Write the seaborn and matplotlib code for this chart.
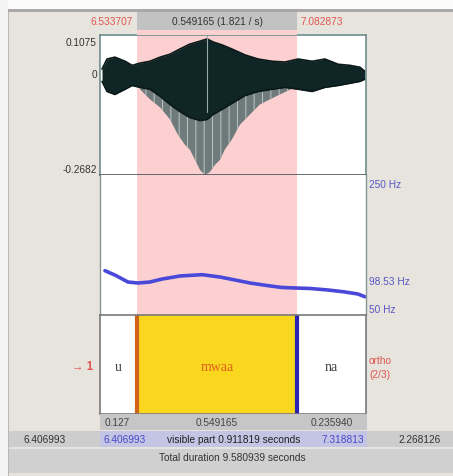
import matplotlib
matplotlib.use("Agg")
import matplotlib.pyplot as plt
import seaborn as sns
import pandas as pd
from matplotlib.patches import Rectangle

# ---------------- data ----------------
view_start, view_end = 6.406993, 7.318813
sel_start, sel_end = 6.533707, 7.082873

wave_t = [6.414, 6.431, 6.458, 6.493, 6.517, 6.544, 6.578, 6.613, 6.647, 6.681, 6.715, 6.750, 6.774,
          6.794, 6.825, 6.859, 6.904, 6.949, 6.997, 7.041, 7.086, 7.134, 7.178, 7.223, 7.264, 7.298, 7.315]
wave_hi = [0.016, 0.043, 0.048, 0.037, 0.026, 0.032, 0.037, 0.048, 0.056, 0.070, 0.083, 0.091, 0.097,
           0.089, 0.081, 0.070, 0.054, 0.043, 0.037, 0.035, 0.043, 0.037, 0.043, 0.029, 0.026, 0.021, 0.010]
wave_lo = [-0.017, -0.044, -0.052, -0.038, -0.028, -0.033, -0.038, -0.057, -0.079, -0.098, -0.114, -0.122, -0.119,
           -0.106, -0.092, -0.076, -0.055, -0.044, -0.038, -0.033, -0.038, -0.044, -0.033, -0.028, -0.022, -0.017, -0.011]

spike_t = [6.544, 6.578, 6.613, 6.647, 6.674, 6.698, 6.715, 6.733, 6.750, 6.767, 6.784, 6.801, 6.818,
           6.835, 6.859, 6.887, 6.921, 6.955, 6.990, 7.024, 7.075]
spike_lo = [-0.038, -0.065, -0.087, -0.119, -0.160, -0.187, -0.200, -0.228, -0.255, -0.268, -0.260, -0.241, -0.228,
            -0.200, -0.173, -0.133, -0.106, -0.079, -0.065, -0.052, -0.033]

pitch_t = [6.424, 6.458, 6.503, 6.537, 6.578, 6.620, 6.681, 6.757, 6.818, 6.870, 6.921, 6.983, 7.031,
           7.075, 7.127, 7.189, 7.247, 7.291, 7.315]
pitch_hz = [113.3, 107.1, 97.1, 95.7, 97.1, 101.4, 105.7, 107.6, 104.3, 100.0, 95.7, 91.9, 89.3,
            88.6, 87.9, 85.7, 82.9, 80.0, 76.1]

tier_labels = ["u", "mwaa", "na"]
tier_bounds = [view_start, sel_start, sel_end, view_end]
tier_durs = ["0.127", "0.549165", "0.235940"]

# ---------------- figure ----------------
sns.set_style("white")
plt.rcParams['font.family'] = ['Liberation Sans', 'DejaVu Sans']
plt.rcParams['hatch.linewidth'] = 0.8

W, H = 453, 477
fig = plt.figure(figsize=(W / 100, H / 100), dpi=100)
fig.patch.set_facecolor("#e6e4dc")


def fx(x):
    return x / W


def fy(y):
    return 1 - y / H


def box(x0, y0, x1, y1, color, **kw):
    fig.patches.append(Rectangle((fx(x0), fy(y1)), (x1 - x0) / W, (y1 - y0) / H,
                                 transform=fig.transFigure, facecolor=color, edgecolor="none", **kw))


def add_ax(x0, y0, x1, y1):
    return fig.add_axes([fx(x0), fy(y1), (x1 - x0) / W, (y1 - y0) / H])


# window frame
box(0, 0, W, 10, "#fbfbfb")
box(0, 0, 8, H, "#f4f4f4")
box(8, 10, W, 13, "#a8a8a8")
box(8, 13, 9, H, "#b8b8b8")

red = "#e2554f"
blue_lbl = "#5a56c8"
fs = 7.3

# top bar
box(137, 13, 297, 31, "#c2c2c2")
fig.text(fx(217), fy(22), "0.549165 (1.821 / s)", ha="center", va="center", fontsize=fs, color="#333333")
fig.text(fx(133), fy(22), "6.533707", ha="right", va="center", fontsize=fs, color=red)
fig.text(fx(301), fy(22), "7.082873", ha="left", va="center", fontsize=fs, color=red)

box(137, 31, 297, 36, "#fcd0d0")

border = "#6e8c8c"

# ---------------- waveform ----------------
axw = add_ax(100, 36, 366, 176)
axw.set_facecolor("white")
axw.axvspan(sel_start, sel_end, color="#fcd0d0", lw=0)
axw.fill_between(spike_t, spike_lo, 0, facecolor="#6f7b7b", hatch="||", edgecolor="#b4bcbc", lw=0)
axw.fill_between(wave_t, wave_lo, wave_hi, facecolor="#102626", lw=0)
axw.plot(wave_t, wave_hi, color="#0a1818", lw=1.2)
axw.plot(wave_t, wave_lo, color="#0a1818", lw=1.2)
axw.plot([6.7725, 6.7725], [-0.10, 0.1075], color="#9aa8a8", lw=0.8)
axw.set_xlim(view_start, view_end)
axw.set_ylim(-0.2682, 0.1075)
axw.set_xticks([])
axw.set_yticks([])
for s in axw.spines.values():
    s.set_color(border)
    s.set_linewidth(1.2)
axw.spines["bottom"].set_color("#4a5656")

fig.text(fx(97), fy(43), "0.1075", ha="right", va="center", fontsize=fs, color="#333333")
fig.text(fx(97), fy(75), "0", ha="right", va="center", fontsize=fs, color="#333333")
fig.text(fx(97), fy(170), "-0.2682", ha="right", va="center", fontsize=fs, color="#333333")

# ---------------- pitch ----------------
axp = add_ax(100, 176, 366, 316)
axp.set_facecolor("white")
axp.axvspan(sel_start, sel_end, color="#fcd0d0", lw=0)
pdf = pd.DataFrame({"t": pitch_t, "hz": pitch_hz})
sns.lineplot(data=pdf, x="t", y="hz", ax=axp, color="#4a48d8", lw=2.6)
axp.set_xlim(view_start, view_end)
axp.set_ylim(50, 250)
axp.set_xticks([])
axp.set_yticks([])
axp.set_xlabel("")
axp.set_ylabel("")
for s in axp.spines.values():
    s.set_color("#8a9696")
    s.set_linewidth(1.0)
axp.spines["top"].set_visible(False)
axp.spines["bottom"].set_visible(False)

fig.text(fx(369), fy(185), "250 Hz", ha="left", va="center", fontsize=fs, color=blue_lbl)
fig.text(fx(369), fy(282), "98.53 Hz", ha="left", va="center", fontsize=fs, color=blue_lbl)
fig.text(fx(369), fy(310), "50 Hz", ha="left", va="center", fontsize=fs, color=blue_lbl)

# ---------------- tier ----------------
axt = add_ax(100, 316, 366, 415)
axt.set_facecolor("white")
axt.axvspan(sel_start, sel_end, color="#f8d71e", lw=0)
axt.axvline(sel_start, color="#d2641a", lw=3)
axt.axvline(sel_end, color="#2a22b0", lw=3)
axt.set_xlim(view_start, view_end)
axt.set_ylim(0, 1)
axt.set_xticks([])
axt.set_yticks([])
for s in axt.spines.values():
    s.set_color("#7a7a7a")
    s.set_linewidth(1.2)
tcolors = ["#404040", "#e0601e", "#404040"]
for i, lab in enumerate(tier_labels):
    mid = (tier_bounds[i] + tier_bounds[i + 1]) / 2
    axt.text(mid, 0.48, lab, ha="center", va="center", fontsize=10, color=tcolors[i],
             family=["Liberation Serif", "DejaVu Serif"])

fig.text(fx(93), fy(367), "\u2192 1", ha="right", va="center", fontsize=fs + 1, color=red, weight="bold")
fig.text(fx(369), fy(361), "ortho", ha="left", va="center", fontsize=fs, color=red)
fig.text(fx(369), fy(375), "(2/3)", ha="left", va="center", fontsize=fs, color=red)

# ---------------- bottom rows ----------------
box(100, 415, 367, 431, "#c6c6c6")
xpix = [117, 217, 332]
for xp, d in zip(xpix, tier_durs):
    fig.text(fx(xp), fy(423), d, ha="center", va="center", fontsize=fs, color="#444444")

box(9, 432, W, 448, "#cdcdcd")
box(100, 432, 367, 448, "#c4c4e4")
fig.text(fx(45), fy(440), "6.406993", ha="center", va="center", fontsize=fs, color="#333333")
fig.text(fx(103), fy(440), "6.406993", ha="left", va="center", fontsize=fs, color="#4848c8")
fig.text(fx(234), fy(440), "visible part 0.911819 seconds", ha="center", va="center", fontsize=fs, color="#222222")
fig.text(fx(364), fy(440), "7.318813", ha="right", va="center", fontsize=fs, color="#4848c8")
fig.text(fx(420), fy(440), "2.268126", ha="center", va="center", fontsize=fs, color="#333333")

box(9, 450, W, 474, "#d0d0d0")
fig.text(fx(232), fy(458), "Total duration 9.580939 seconds", ha="center", va="center", fontsize=fs, color="#333333")

fig.savefig("out.png", dpi=100, facecolor=fig.get_facecolor())
